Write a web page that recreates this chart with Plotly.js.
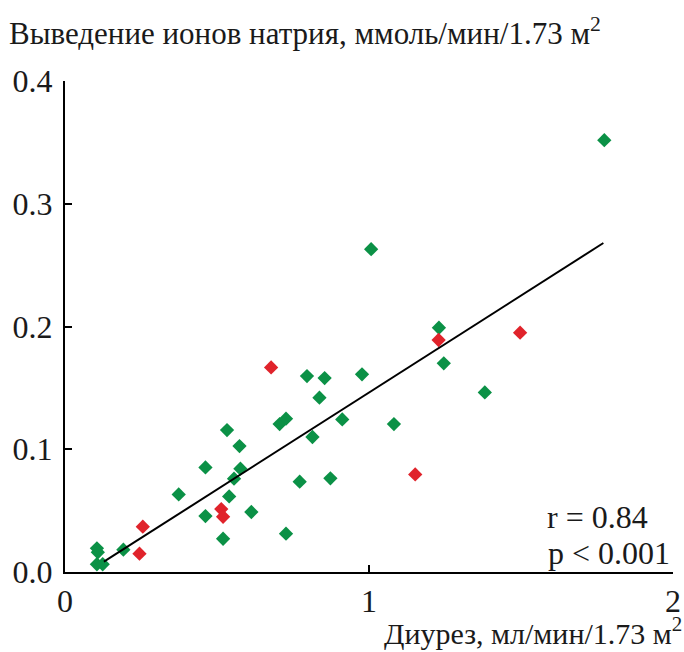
<!DOCTYPE html>
<html>
<head>
<meta charset="utf-8">
<script src="https://cdn.plot.ly/plotly-3.0.1.min.js"></script>
<style>html,body{margin:0;padding:0;background:#fff;}#chart{width:684px;height:652px;}</style>
</head>
<body>
<div id="chart"></div>
<script>
// Diuresis (ml/min/1.73 m2) vs sodium excretion (mmol/min/1.73 m2)
const greenX = [0.796, 0.854, 0.977, 0.837, 0.706, 0.727, 0.912, 0.533, 0.574, 0.814, 0.462, 0.577, 0.556, 0.772, 0.873, 0.374, 0.540, 0.462, 0.613, 0.520, 0.727, 0.192, 0.105, 0.108, 0.105, 0.124, 1.774, 1.007, 1.230, 1.246, 1.381, 1.082];
const greenY = [0.1596, 0.158, 0.161, 0.142, 0.1205, 0.1249, 0.1243, 0.1156, 0.1026, 0.110, 0.0852, 0.0842, 0.076, 0.0736, 0.0763, 0.0632, 0.0616, 0.0456, 0.0489, 0.0271, 0.0312, 0.0182, 0.0193, 0.016, 0.0063, 0.0063, 0.3518, 0.263, 0.199, 0.170, 0.1463, 0.1205];
const redX = [0.678, 0.514, 0.520, 0.256, 0.245, 1.229, 1.497, 1.152];
const redY = [0.1667, 0.0513, 0.045, 0.0369, 0.0149, 0.189, 0.195, 0.0795];
const fitX = [0.128, 1.771];
const fitY = [0.0084, 0.268];
const xTicks = [0, 1, 2];
const xTickText = ['0', '1', '2'];
const yTicks = [0, 0.1, 0.2, 0.3, 0.4];
const yTickText = ['0.0', '0.1', '0.2', '0.3', '0.4'];
const titleY = 'Выведение ионов натрия, ммоль/мин/1.73 м<sup>2</sup>';
const titleX = 'Диурез, мл/мин/1.73 м<sup>2</sup>';
const statR = 'r = 0.84';
const statP = 'p < 0.001';

const font = 'Liberation Serif, Times New Roman, serif';
const txt = '#1a1a1a';

const data = [
  {x: greenX, y: greenY, type: 'scatter', mode: 'markers',
   marker: {symbol: 'diamond', size: 11, color: '#0b9146', line: {width: 0}}, hoverinfo: 'x+y'},
  {x: redX, y: redY, type: 'scatter', mode: 'markers',
   marker: {symbol: 'diamond', size: 11, color: '#e0232b', line: {width: 0}}, hoverinfo: 'x+y'},
  {x: fitX, y: fitY, type: 'scatter', mode: 'lines',
   line: {color: '#000', width: 2}, hoverinfo: 'skip'}
];

const layout = {
  width: 684, height: 652,
  margin: {l: 65, r: 11, t: 81, b: 80, pad: 0},
  paper_bgcolor: '#fff', plot_bgcolor: '#fff',
  showlegend: false,
  font: {family: font, size: 32, color: txt},
  title: {text: titleY, x: 9/684, xref: 'container', xanchor: 'left',
          y: 1 - 33/652, yref: 'container', yanchor: 'middle',
          font: {family: font, size: 31, color: txt}},
  xaxis: {range: [0, 2], tickvals: xTicks, ticktext: xTickText,
          showline: true, linecolor: '#000', linewidth: 2, mirror: false,
          ticks: 'inside', ticklen: 7, tickwidth: 2, tickcolor: '#000',
          showgrid: false, zeroline: false, fixedrange: true,
          tickfont: {family: font, size: 32, color: txt}},
  yaxis: {range: [0, 0.4], tickvals: yTicks, ticktext: yTickText,
          showline: true, linecolor: '#000', linewidth: 2,
          ticks: 'inside', ticklen: 7, tickwidth: 2, tickcolor: '#000',
          showgrid: false, zeroline: false, fixedrange: true,
          ticklabelstandoff: 4,
          tickfont: {family: font, size: 32, color: txt}},
  annotations: [
    {text: titleX, xref: 'paper', yref: 'paper', x: 1.018, y: (572 - 631) / 491,
     xanchor: 'right', yanchor: 'middle', showarrow: false,
     font: {family: font, size: 30, color: txt}},
    {text: statR, xref: 'paper', yref: 'paper', x: (545 - 65) / 608, y: (572 - 517) / 491,
     xanchor: 'left', yanchor: 'middle', showarrow: false,
     font: {family: font, size: 32, color: txt}},
    {text: statP, xref: 'paper', yref: 'paper', x: (546 - 65) / 608, y: (572 - 553) / 491,
     xanchor: 'left', yanchor: 'middle', showarrow: false,
     font: {family: font, size: 32, color: txt}}
  ]
};

Plotly.newPlot('chart', data, layout, {displayModeBar: false, staticPlot: true});
</script>
</body>
</html>
